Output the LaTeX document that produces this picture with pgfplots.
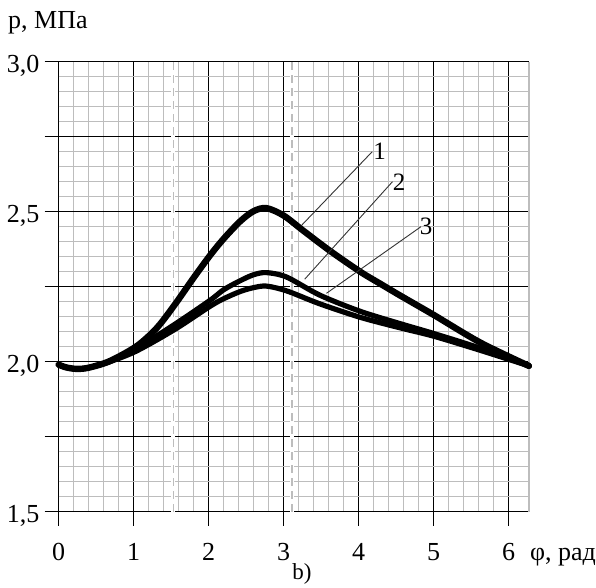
\documentclass[border=0pt]{standalone}
\usepackage{pgfplots}
\pgfplotsset{compat=1.18}
\usepackage{fontspec}
\setmainfont{Liberation Serif}
\definecolor{mgrid}{HTML}{BDBDBD}
\begin{document}
\fontsize{26}{30}\selectfont
\begin{tikzpicture}
\useasboundingbox (-58.7pt,-75.3pt) rectangle (537.3pt,511.7pt);
\begin{axis}[
  scale only axis,
  width=470.25pt, height=450pt,
  xmin=0, xmax=6.27, ymin=1.5, ymax=3.0,
  xtick={0,1,2,3,4,5,6},
  xticklabels={0,1,2,3,4,5,6},
  ytick={1.5,1.75,2.0,2.25,2.5,2.75,3.0},
  yticklabels={{1,5},,{2,0},,{2,5},,{3,0}},
  minor x tick num=4, minor y tick num=4,
  grid=both,
  major grid style={black, line width=1.1pt},
  minor grid style={mgrid, line width=1.3pt},
  axis line style={draw=none},
  tick align=outside,
  major tick length=14pt,
  minor tick length=0pt,
  tick style={black, line width=1.1pt},
  xtick pos=bottom, ytick pos=left,
  xticklabel style={anchor=base, inner sep=0pt, yshift=-34.3pt, font=\fontsize{26}{30}\selectfont},
  yticklabel style={anchor=base east, inner sep=0pt, xshift=-5.2pt, yshift=-10.4pt, font=\fontsize{26}{30}\selectfont},
  clip=false,
]
% decorative dashed verticals
\draw[white, line width=4pt] (axis cs:1.53,1.5) -- (axis cs:1.53,3.0);
\draw[white, line width=4pt] (axis cs:3.11,1.5) -- (axis cs:3.11,3.0);
\draw[mgrid, line width=1.2pt, dash pattern=on 8pt off 5pt] (axis cs:1.53,1.5) -- (axis cs:1.53,3.0);
\draw[mgrid, line width=1.2pt, dash pattern=on 8pt off 5pt] (axis cs:3.11,1.5) -- (axis cs:3.11,3.0);
\draw[mgrid, line width=1.3pt] (axis cs:6.27,1.5) -- (axis cs:6.27,3.0);
% curve 1
\addplot[black, line width=6.4pt, smooth, line cap=round, line join=round] coordinates {
(0,1.99) (0.1,1.981) (0.24,1.976) (0.4,1.98) (0.68,2.002) (1.04,2.052) (1.31,2.113)
(1.55,2.191) (1.8,2.28) (2.02,2.355) (2.2,2.41) (2.42,2.468) (2.6,2.502) (2.77,2.512)
(3.0,2.487) (3.26,2.437) (3.62,2.369) (4.02,2.300) (4.28,2.261) (4.55,2.221)
(5.0,2.156) (5.62,2.064) (6.27,1.986)};
% curve 2
\addplot[black, line width=5.2pt, smooth, line cap=round, line join=round] coordinates {
(0,1.99) (0.1,1.981) (0.24,1.976) (0.4,1.98) (0.68,2.0) (1.04,2.045) (1.55,2.125)
(2.02,2.205) (2.2,2.24) (2.42,2.27) (2.6,2.29) (2.77,2.297) (3.04,2.282) (3.48,2.222)
(4.02,2.168) (4.55,2.127) (5.0,2.094) (5.62,2.045) (6.27,1.986)};
% curve 3
\addplot[black, line width=5.2pt, smooth, line cap=round, line join=round] coordinates {
(0,1.99) (0.1,1.981) (0.24,1.976) (0.4,1.98) (0.68,2.0) (1.04,2.036) (1.55,2.108)
(2.02,2.185) (2.2,2.21) (2.42,2.234) (2.6,2.247) (2.77,2.252) (3.04,2.236) (3.48,2.193)
(4.02,2.148) (4.55,2.113) (5.0,2.085) (5.62,2.038) (6.27,1.986)};
% leader lines and labels
\draw[black!80, line width=0.9pt] (axis cs:3.24,2.455) -- (axis cs:4.18,2.70);
\draw[black!80, line width=0.9pt] (axis cs:3.28,2.275) -- (axis cs:4.45,2.60);
\draw[black!80, line width=0.9pt] (axis cs:3.57,2.228) -- (axis cs:4.83,2.45);
\node[inner sep=0pt, font=\fontsize{25}{29}\selectfont] at (axis cs:4.28,2.70) {1};
\node[inner sep=0pt, font=\fontsize{25}{29}\selectfont] at (axis cs:4.54,2.597) {2};
\node[inner sep=0pt, font=\fontsize{25}{29}\selectfont] at (axis cs:4.90,2.451) {3};
\end{axis}
\node[anchor=base west, inner sep=0pt] at (-50.7pt,483.2pt) {p, МПа};
\node[anchor=base west, inner sep=0pt] at (471.3pt,-48.3pt) {φ, рад};
\node[anchor=base, inner sep=0pt, font=\fontsize{23}{27}\selectfont] at (243.3pt,-67.3pt) {b)};
\end{tikzpicture}
\end{document}
